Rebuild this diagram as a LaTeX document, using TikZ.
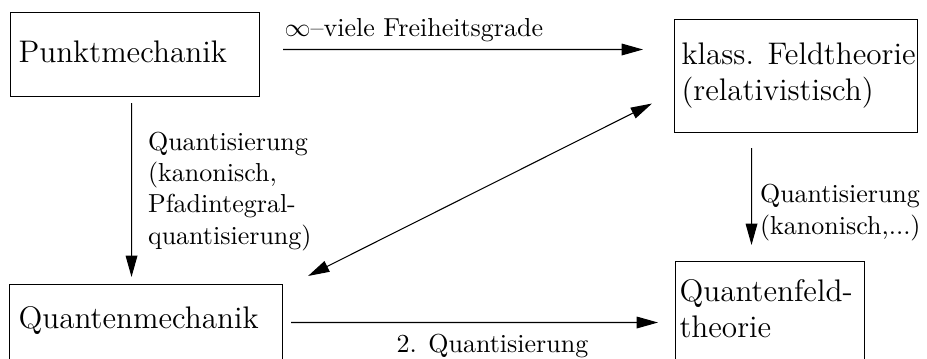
\documentclass[tikz,border=0pt]{standalone}
\usetikzlibrary{arrows.meta,calc}
\begin{document}
\begin{tikzpicture}[x=0.3846pt, y=-0.3846pt,
  box/.style={draw, line width=0.4pt, inner sep=0pt, anchor=north west},
  boxtext/.style={font=\large, inner sep=0pt, anchor=base west, align=left},
  lbl/.style={inner sep=0pt, anchor=base west, align=left},
  arr/.style={-{Triangle[length=8.2pt,width=4.5pt]}, line width=0.4pt},
  darr/.style={{Triangle[length=8.2pt,width=4.5pt]}-{Triangle[length=8.2pt,width=4.5pt]}, line width=0.4pt}]
\clip (0,0) rectangle (927,359);
% boxes
\node[box, minimum width=95.77pt, minimum height=32.31pt] (pm) at (10,12) {};
\node[box, minimum width=93.46pt, minimum height=43.46pt] (kf) at (674,19) {};
\node[box, minimum width=105.0pt, minimum height=38.46pt] (qm) at (9,284) {};
\node[box, minimum width=72.69pt, minimum height=42.31pt] (qf) at (675,261) {};
% box texts (base = baseline of the last line)
\node[boxtext] (pmt) at (18,63) {Punktmechanik};
\node[boxtext] (kft) at (681,101) {klass. Feldtheorie\\(relativistisch)};
\node[boxtext] (qmt) at (18,329) {Quantenmechanik};
\node[boxtext] (qft) at (679,338) {Quantenfeld-\\theorie};
% connectors
\draw[arr] ($(pm.east)+(23,-5)$) -- ($(kf.west)+(-31,-26.5)$)
  node[lbl, pos=0, shift={(1,-13)}] (l1) {$\infty$--viele Freiheitsgrade};
\draw[arr] ($(pm.south)+(-3.5,6)$) -- ($(qm.north)+(-14.5,-7)$)
  node[lbl, pos=0, shift={(16,141)}] (l2) {Quantisierung\\(kanonisch,\\Pfadintegral-\\quantisierung)};
\draw[darr] ($(qm.north east)+(25,-8)$) -- ($(kf.west)+(-22,27.5)$);
\draw[arr] ($(kf.south)+(-44.5,15)$) -- ($(qf.north)+(-18.5,-16)$)
  node[lbl, pos=0, shift={(8,86)}] (l3) {Quantisierung\\(kanonisch,...)};
\draw[arr] ($(qm.east)+(8,-12)$) -- ($(qf.west)+(-17,6)$)
  node[lbl, pos=0, shift={(105,30)}] (l4) {2. Quantisierung};
\end{tikzpicture}
\end{document}
